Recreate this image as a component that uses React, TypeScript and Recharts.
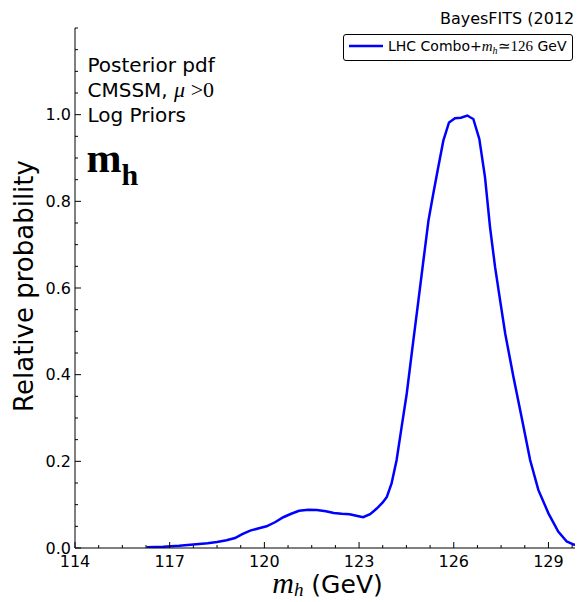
import React from 'react';
import { LineChart, Line, XAxis, YAxis, Legend } from 'recharts';

// Higgs mass posterior (relative probability vs m_h in GeV)
const mhValues = [
  116.27, 116.8, 117.3, 117.75, 118.2, 118.5, 118.8, 119.07, 119.3, 119.55,
  119.8, 120.07, 120.35, 120.6, 120.85, 121.1, 121.4, 121.66, 121.95, 122.2,
  122.45, 122.7, 122.95, 123.13, 123.35, 123.56, 123.75, 123.88, 124.03, 124.19,
  124.35, 124.51, 124.72, 124.88, 125.04, 125.2, 125.35, 125.51, 125.67, 125.85,
  126.04, 126.23, 126.43, 126.52, 126.62, 126.81, 126.99, 127.15, 127.31, 127.47,
  127.63, 127.89, 128.15, 128.42, 128.68, 129.0, 129.31, 129.58, 129.8, 130.0,
];
const probValues = [
  0.002, 0.003, 0.005, 0.008, 0.011, 0.014, 0.018, 0.023, 0.032, 0.04,
  0.045, 0.05, 0.06, 0.071, 0.079, 0.086, 0.088, 0.0875, 0.085, 0.081,
  0.079, 0.078, 0.074, 0.071, 0.078, 0.091, 0.105, 0.118, 0.149, 0.203,
  0.28, 0.356, 0.479, 0.571, 0.664, 0.756, 0.817, 0.879, 0.94, 0.982,
  0.992, 0.993, 0.998, 0.994, 0.99, 0.944, 0.856, 0.74, 0.648, 0.571,
  0.495, 0.395, 0.302, 0.203, 0.134, 0.08, 0.038, 0.015, 0.008, 0.005,
];

const xMajor = [114, 117, 120, 123, 126, 129];
const yMajor = [0, 0.2, 0.4, 0.6, 0.8, 1.0];
// minor ticks: 4 per major interval
const xTicks = Array.from({ length: 22 }, (_, i) => 114 + i * 0.75);
const yTicks = Array.from({ length: 25 }, (_, i) => +(i * 0.05).toFixed(2));

const data = mhValues.map((m, i) => ({ mh: m, p: probValues[i] }));

const W = 573;
const H = 592;
const SANS = 'DejaVu Sans';
const SERIF = 'Liberation Serif';
const isMajor = (list: number[], v: number) => list.some((t) => Math.abs(t - v) < 1e-6);

const BottomTick = ({ x, y, payload }: any) => {
  const major = isMajor(xMajor, payload.value);
  return (
    <g>
      <line x1={x} y1={y} x2={x} y2={y - (major ? 6 : 3)} stroke="#000" />
      {major && (
        <text x={x} y={y + 19} textAnchor="middle" fontFamily={SANS} fontSize={16} fill="#000">
          {payload.value}
        </text>
      )}
    </g>
  );
};

const TopTick = ({ x, y, payload }: any) => (
  <line x1={x} y1={y} x2={x} y2={y + (isMajor(xMajor, payload.value) ? 6 : 3)} stroke="#000" />
);

const LeftTick = ({ x, y, payload }: any) => {
  const major = isMajor(yMajor, payload.value);
  return (
    <g>
      <line x1={x} y1={y} x2={x + (major ? 6 : 3)} y2={y} stroke="#000" />
      {major && (
        <text x={x - 4} y={y + 5.5} textAnchor="end" fontFamily={SANS} fontSize={16} fill="#000">
          {payload.value.toFixed(1)}
        </text>
      )}
    </g>
  );
};

const RightTick = ({ x, y, payload }: any) => (
  <line x1={x} y1={y} x2={x - (isMajor(yMajor, payload.value) ? 6 : 3)} y2={y} stroke="#000" />
);

const LegendBox = () => (
  <div
    style={{
      position: 'relative',
      boxSizing: 'border-box',
      width: 230,
      height: 27,
      border: '1px solid #000',
      borderRadius: 3,
      background: '#fff',
      color: '#000',
      fontFamily: SANS,
      fontSize: 14,
      whiteSpace: 'nowrap',
    }}
  >
    <svg width={36} height={6} style={{ position: 'absolute', left: 4, top: 8 }}>
      <line x1={1} y1={3} x2={35} y2={3} stroke="#0000ff" strokeWidth={2.5} />
    </svg>
    <span style={{ position: 'absolute', left: 44, top: 4, lineHeight: '14px' }}>
      LHC Combo+
      <span style={{ fontFamily: SERIF, fontStyle: 'italic', fontSize: 15 }}>m</span>
      <span style={{ fontFamily: SERIF, fontStyle: 'italic', fontSize: 10, position: 'relative', top: 3 }}>h</span>
      <span style={{ fontFamily: SERIF, fontSize: 15 }}>{'\u2243126'}</span> GeV
    </span>
  </div>
);

export default function App() {
  return (
    <div style={{ position: 'relative', width: W, height: H }}>
      {/* keep the page free of scrollbars */}
      <style>{'html { overflow: hidden; }'}</style>
      <LineChart width={W} height={H} data={data} margin={{ top: 20, right: 1, bottom: 0, left: 0 }}>
        <XAxis
          dataKey="mh"
          type="number"
          domain={[114, 130]}
          allowDataOverflow
          ticks={xTicks}
          interval={0}
          height={52}
          tickSize={0}
          tickMargin={0}
          tickLine={false}
          axisLine={{ stroke: '#000' }}
          tick={<BottomTick />}
        />
        <XAxis
          xAxisId="top"
          orientation="top"
          type="number"
          domain={[114, 130]}
          allowDataOverflow
          ticks={xTicks}
          interval={0}
          height={0}
          tickSize={0}
          tickMargin={0}
          tickLine={false}
          axisLine={{ stroke: '#000' }}
          tick={<TopTick />}
        />
        <YAxis
          type="number"
          domain={[0, 1.2]}
          allowDataOverflow
          ticks={yTicks}
          interval={0}
          width={67}
          tickSize={0}
          tickMargin={0}
          tickLine={false}
          axisLine={{ stroke: '#000' }}
          tick={<LeftTick />}
        />
        <YAxis
          yAxisId="right"
          orientation="right"
          type="number"
          domain={[0, 1.2]}
          allowDataOverflow
          ticks={yTicks}
          interval={0}
          width={0}
          tickSize={0}
          tickMargin={0}
          tickLine={false}
          axisLine={{ stroke: '#000' }}
          tick={<RightTick />}
        />
        <Legend
          layout="horizontal"
          verticalAlign="middle"
          align="center"
          wrapperStyle={{ top: 26, left: 335, width: 230, height: 27 }}
          content={<LegendBox />}
        />
        <Line
          type="linear"
          dataKey="p"
          stroke="#0000ff"
          strokeWidth={2.5}
          dot={false}
          activeDot={false}
          isAnimationActive={false}
        />
      </LineChart>
      <svg width={W} height={H} style={{ position: 'absolute', left: 0, top: 0, pointerEvents: 'none' }}>
        <text x={572.5} y={15.5} textAnchor="end" fontFamily={SANS} fontSize={16} fill="#000">
          BayesFITS (2012)
        </text>
        <text x={79.5} y={63.7} fontFamily={SANS} fontSize={20} fill="#000">
          Posterior pdf
        </text>
        <text x={79.5} y={88.7} fontFamily={SANS} fontSize={20} fill="#000">
          CMSSM,{' '}
          <tspan fontFamily={SERIF} fontStyle="italic" fontSize={22}>
            μ
          </tspan>
          <tspan fontFamily={SERIF} fontSize={22}>
            {' >0'}
          </tspan>
        </text>
        <text x={79.5} y={113.7} fontFamily={SANS} fontSize={20} fill="#000">
          Log Priors
        </text>
        <text x={78.5} y={163.7} fontFamily={SERIF} fontWeight="bold" fontSize={42} fill="#000">
          m
          <tspan fontSize={30} dy={13}>
            h
          </tspan>
        </text>
        <text x={319.5} y={585} textAnchor="middle" fill="#000">
          <tspan fontFamily={SERIF} fontStyle="italic" fontSize={30}>
            m
          </tspan>
          <tspan fontFamily={SERIF} fontStyle="italic" fontSize={19} dy={3}>
            h
          </tspan>
          <tspan fontFamily={SANS} fontSize={25} dy={-3}>
            {' (GeV)'}
          </tspan>
        </text>
        <text
          x={25}
          y={278}
          transform="rotate(-90, 25, 278)"
          textAnchor="middle"
          fontFamily={SANS}
          fontSize={26}
          fill="#000"
        >
          Relative probability
        </text>
      </svg>
    </div>
  );
}
